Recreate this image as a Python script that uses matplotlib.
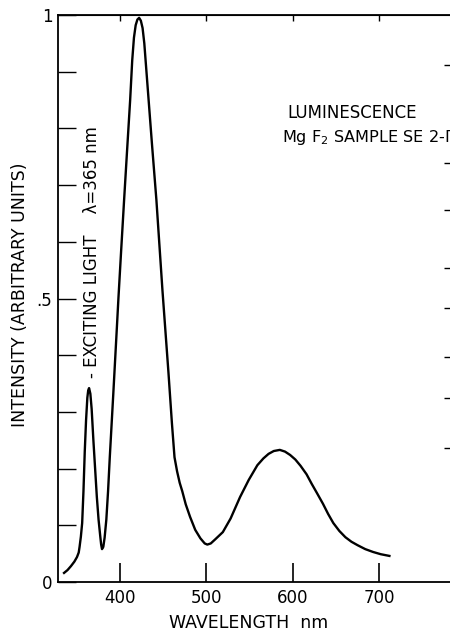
import matplotlib
matplotlib.use("Agg")
import matplotlib.pyplot as plt

# luminescence curve (wavelength nm, intensity arb. units)
wavelength = [335, 339, 343, 347, 350, 352, 353, 354.5, 356, 357.5, 359,
              360.5, 362, 363, 364, 365.5, 367, 369, 371, 373, 375, 377,
              378, 379, 380.5, 382, 384, 386, 388, 392, 396.5, 398, 401,
              404.6, 408, 411.6, 414, 416, 418, 420, 422, 424, 426, 428,
              430, 433, 437, 442, 449, 456, 460, 463, 466, 469, 472, 476,
              481, 487, 493, 498, 501, 505, 510, 519, 528, 539, 549, 559,
              566, 572, 578, 585, 591, 597, 603, 609, 616, 622, 628, 635,
              641, 647, 654, 661, 668, 675, 684, 693, 702, 712]
intensity = [0.016, 0.021, 0.028, 0.036, 0.044, 0.052, 0.062, 0.080, 0.104,
             0.160, 0.230, 0.285, 0.325, 0.338, 0.342, 0.332, 0.305, 0.250,
             0.200, 0.150, 0.110, 0.080, 0.066, 0.058, 0.062, 0.078, 0.110,
             0.160, 0.220, 0.330, 0.457, 0.500, 0.580, 0.674, 0.760, 0.850,
             0.920, 0.960, 0.982, 0.992, 0.995, 0.990, 0.977, 0.950, 0.910,
             0.850, 0.770, 0.674, 0.515, 0.369, 0.280, 0.220, 0.195, 0.175,
             0.160, 0.137, 0.115, 0.092, 0.077, 0.068, 0.066, 0.068, 0.075,
             0.088, 0.112, 0.150, 0.180, 0.206, 0.218, 0.226, 0.231, 0.233,
             0.230, 0.224, 0.216, 0.205, 0.190, 0.173, 0.157, 0.138, 0.120,
             0.104, 0.090, 0.079, 0.071, 0.065, 0.058, 0.053, 0.049, 0.046]

x_ticks = [400, 500, 600, 700]
y_ticks = [0, 0.1, 0.2, 0.3, 0.4, 0.5, 0.6, 0.7, 0.8, 0.9, 1.0]
y_labels = {0: "0", 0.5: ".5", 1.0: "1"}
right_ticks = [0.912, 0.739, 0.656, 0.554, 0.483, 0.397, 0.325, 0.236]

plt.rcParams["font.family"] = ["DejaVu Sans"]
plt.rcParams["mathtext.fontset"] = "dejavusans"

fig = plt.figure(figsize=(4.5, 6.31), dpi=100)
# the frame runs past the right edge of the scan
ax = fig.add_axes([58 / 450, 1 - 582 / 631, 397 / 450, 567 / 631])

ax.plot(wavelength, intensity, color="black", lw=1.7, solid_joinstyle="round")

ax.set_xlim(328, 788)
ax.set_ylim(0, 1.0)

for s in ax.spines.values():
    s.set_linewidth(1.3)

ax.set_xticks(x_ticks)
ax.set_xticklabels([str(t) for t in x_ticks])
ax.set_yticks(y_ticks)
ax.set_yticklabels([y_labels.get(round(t, 1), "") for t in y_ticks])
ax.tick_params(axis="x", direction="in", length=14, width=1.2, pad=5,
               labelsize=12, top=False)
ax.tick_params(axis="y", direction="in", length=13, width=1.0, pad=4,
               labelsize=12, right=False)

# short ticks on the top and right frame
top = ax.secondary_xaxis("top")
top.set_xticks(x_ticks)
top.set_xticklabels([])
top.tick_params(direction="in", length=4, width=1.0)
right = ax.secondary_yaxis("right")
right.set_yticks(right_ticks)
right.set_yticklabels([])
right.tick_params(direction="in", length=8, width=1.0)

fig.text(249 / 450, 1 - 623 / 631, "WAVELENGTH  nm", ha="center",
         va="center", fontsize=12.5)
fig.text(20 / 450, 1 - 295 / 631, "INTENSITY (ARBITRARY UNITS)",
         rotation=90, ha="center", va="center", fontsize=12.5)

ax.text(367.5, 0.36, "- EXCITING LIGHT    λ=365 nm", rotation=90,
        ha="center", va="bottom", fontsize=12)
ax.text(594, 0.818, "LUMINESCENCE", ha="left", va="baseline", fontsize=12)
# the scan cuts this line at its right edge
ax.text(587, 0.776, "Mg F$_2$ SAMPLE SE 2-Π", ha="left", va="baseline",
        fontsize=11.6)

fig.savefig("out.png", dpi=100)
